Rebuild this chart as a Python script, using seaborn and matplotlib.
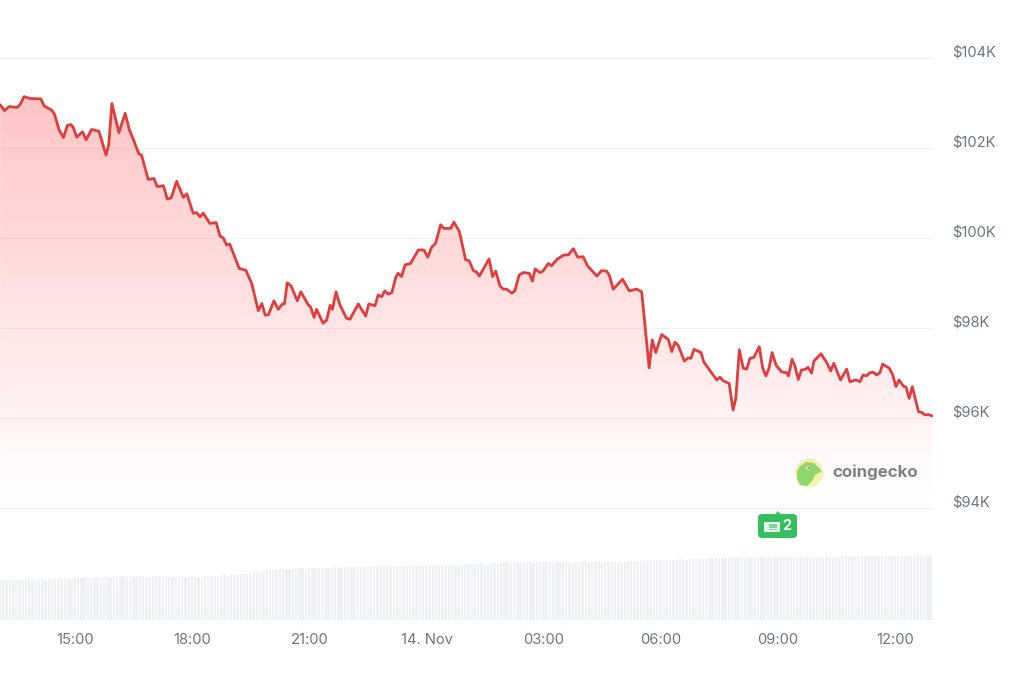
import numpy as np
import pandas as pd
import seaborn as sns
import matplotlib.pyplot as plt
from matplotlib.patches import Circle, Polygon, FancyBboxPatch, Rectangle
from matplotlib.transforms import IdentityTransform, Affine2D

W, H = 1025, 673

# hours since 13 Nov 00:00
price_hours = [
    13.11, 13.22, 13.34, 13.55, 13.63, 13.72, 13.87, 14.15, 14.24, 14.43, 14.50, 14.62, 14.73, 14.83, 14.92, 14.98,
    15.07, 15.22, 15.31, 15.45, 15.64, 15.82, 15.89, 15.97, 16.15, 16.31, 16.42, 16.52, 16.66, 16.73, 16.90, 17.05,
    17.13, 17.29, 17.39, 17.49, 17.63, 17.80, 17.89, 18.05, 18.14, 18.23, 18.31, 18.48, 18.64, 18.74, 18.82, 18.91,
    18.99, 19.23, 19.40, 19.55, 19.72, 19.81, 19.90, 19.98, 20.12, 20.23, 20.34, 20.39, 20.46, 20.56, 20.72, 20.81,
    21.00, 21.06, 21.15, 21.21, 21.38, 21.47, 21.56, 21.62, 21.71, 21.81, 21.98, 22.07, 22.28, 22.47, 22.55, 22.71,
    22.79, 22.88, 22.96, 23.05, 23.14, 23.24, 23.30, 23.39, 23.48, 23.62, 23.82, 23.96, 24.06, 24.16, 24.26, 24.39,
    24.47, 24.65, 24.73, 24.87, 25.03, 25.12, 25.23, 25.31, 25.38, 25.63, 25.72, 25.80, 25.91, 25.99, 26.08, 26.21,
    26.29, 26.40, 26.51, 26.66, 26.74, 26.81, 26.93, 27.00, 27.15, 27.23, 27.38, 27.55, 27.66, 27.79, 27.90, 28.04,
    28.15, 28.39, 28.51, 28.64, 28.71, 28.81, 29.05, 29.22, 29.41, 29.54, 29.73, 29.81, 29.90, 30.05, 30.22, 30.31,
    30.39, 30.48, 30.63, 30.73, 30.80, 30.88, 31.06, 31.13, 31.46, 31.54, 31.63, 31.78, 31.88, 31.95, 32.04, 32.14,
    32.23, 32.31, 32.41, 32.55, 32.64, 32.72, 32.80, 32.88, 32.98, 33.12, 33.25, 33.30, 33.39, 33.46, 33.55, 33.63,
    33.74, 33.80, 33.89, 33.95, 34.13, 34.27, 34.38, 34.46, 34.63, 34.79, 34.87, 35.03, 35.13, 35.21, 35.30, 35.38,
    35.47, 35.56, 35.64, 35.71, 35.88, 35.97, 36.05, 36.13, 36.24, 36.31, 36.39, 36.47, 36.63, 36.71, 36.79, 36.88,
    36.98,
]

# price in $K
price_values = [
    102.97, 102.84, 102.93, 102.91, 102.99, 103.15, 103.11, 103.10, 102.94, 102.85, 102.76, 102.41, 102.24, 102.51, 102.53, 102.47,
    102.25, 102.37, 102.19, 102.42, 102.38, 101.85, 102.08, 103.00, 102.35, 102.78, 102.41, 102.20, 101.88, 101.85, 101.31, 101.33,
    101.15, 101.17, 100.87, 100.90, 101.27, 100.91, 100.99, 100.56, 100.57, 100.48, 100.56, 100.33, 100.35, 100.05, 100.01, 99.85,
    99.87, 99.33, 99.29, 99.00, 98.39, 98.55, 98.29, 98.30, 98.61, 98.42, 98.54, 98.54, 99.01, 98.94, 98.61, 98.81,
    98.52, 98.47, 98.24, 98.42, 98.11, 98.18, 98.51, 98.42, 98.81, 98.52, 98.22, 98.20, 98.54, 98.27, 98.54, 98.50,
    98.74, 98.70, 98.83, 98.76, 98.79, 99.13, 99.22, 99.15, 99.41, 99.44, 99.74, 99.74, 99.58, 99.80, 99.89, 100.30,
    100.22, 100.22, 100.36, 100.15, 99.52, 99.50, 99.28, 99.25, 99.16, 99.54, 99.15, 99.27, 98.94, 98.87, 98.87, 98.78,
    98.83, 99.18, 99.24, 99.22, 99.05, 99.32, 99.24, 99.26, 99.44, 99.39, 99.54, 99.63, 99.63, 99.77, 99.58, 99.59,
    99.39, 99.16, 99.28, 99.27, 99.18, 98.87, 99.09, 98.83, 98.87, 98.81, 97.12, 97.74, 97.46, 97.86, 97.75, 97.48,
    97.69, 97.61, 97.27, 97.34, 97.33, 97.53, 97.46, 97.25, 96.85, 96.91, 96.83, 96.77, 96.18, 96.44, 97.52, 97.11,
    97.09, 97.33, 97.35, 97.59, 97.11, 96.94, 97.11, 97.46, 97.18, 97.03, 97.01, 96.94, 97.31, 97.17, 96.86, 97.07,
    97.09, 97.13, 97.00, 97.27, 97.43, 97.25, 97.05, 97.22, 96.85, 97.09, 96.81, 96.85, 96.81, 96.96, 96.94, 97.01,
    97.02, 96.96, 97.01, 97.20, 97.11, 96.96, 96.70, 96.85, 96.71, 96.69, 96.44, 96.70, 96.14, 96.13, 96.07, 96.08,
    96.05,
]

# 5 minute volume bars, $B
volume_values = [
    80, 80, 81, 80, 81, 81, 80, 81, 81, 82, 81, 82,
    82, 82, 81, 82, 83, 82, 83, 83, 82, 83, 83, 84,
    84, 84, 85, 84, 85, 85, 86, 85, 86, 86, 87, 86,
    87, 87, 88, 87, 88, 88, 87, 88, 88, 87, 87, 88,
    88, 87, 87, 86, 87, 86, 86, 87, 86, 86, 87, 87,
    86, 87, 87, 88, 88, 89, 88, 89, 90, 90, 89, 90,
    90, 91, 92, 92, 93, 94, 96, 97, 98, 99, 100, 100,
    101, 101, 102, 102, 103, 102, 103, 103, 104, 104, 103, 104,
    104, 104, 105, 105, 105, 104, 105, 106, 105, 106, 106, 106,
    106, 107, 106, 107, 107, 108, 107, 107, 108, 108, 107, 108,
    108, 108, 107, 108, 108, 109, 108, 108, 108, 109, 108, 108,
    109, 109, 110, 109, 110, 110, 110, 111, 110, 111, 111, 112,
    112, 112, 113, 113, 114, 113, 114, 115, 114, 115, 115, 116,
    116, 115, 116, 116, 115, 116, 116, 116, 115, 116, 116, 116,
    116, 116, 115, 116, 116, 116, 116, 115, 116, 116, 116, 116,
    116, 115, 116, 116, 116, 115, 116, 116, 116, 116, 115, 116,
    116, 117, 118, 118, 119, 119, 119, 120, 120, 120, 120, 120,
    120, 120, 121, 121, 121, 122, 122, 121, 122, 122, 122, 123,
    123, 123, 124, 124, 124, 125, 124, 125, 125, 125, 126, 126,
    126, 127, 127, 127, 127, 126, 127, 127, 128, 127, 127, 127,
    127, 127, 126, 127, 127, 127, 128, 127, 127, 127, 127, 127,
    127, 127, 128, 127, 127, 128, 127, 128, 128, 127, 128, 128,
    128, 128, 128, 128, 129, 128, 128, 129, 129, 128, 129, 129,
    129, 129, 129, 130, 129, 129, 130, 129, 130, 130, 130,
]

y_ticks = [94, 96, 98, 100, 102, 104]
y_labels = ['$94K', '$96K', '$98K', '$100K', '$102K', '$104K']
x_ticks = [15, 18, 21, 24, 27, 30, 33, 36]
x_labels = ['15:00', '18:00', '21:00', '14. Nov', '03:00', '06:00', '09:00', '12:00']
news_count = '2'
brand = 'coingecko'

sns.set_theme(style='white')
plt.rcParams['font.family'] = ['Inter', 'DejaVu Sans']

TEXT = '#6a7684'
RED = '#de3e3e'
XLIM = (13.105, 37.0)
YLIM = (91.51, 105.30)

fig = plt.figure(figsize=(W / 100, H / 100), dpi=100, facecolor='white')
ax = fig.add_axes([0, (H - 620) / H, 933 / W, 620 / H])

# volume bars on their own scale
vol_ax = ax.twinx()
bar_hours = XLIM[0] + np.arange(len(volume_values)) / 12
vol_df = pd.DataFrame({'hour': bar_hours, 'volume': volume_values})
sns.barplot(data=vol_df, x='hour', y='volume', native_scale=True, color='#edf1f5',
            saturation=1, width=0.72, linewidth=0, ax=vol_ax)
vol_ax.set_ylim(0, 1240)
vol_ax.set_axis_off()

# price line and gradient below it
price_df = pd.DataFrame({'hour': price_hours, 'price': price_values})
area = ax.fill_between(price_hours, price_values, YLIM[0], color='none', linewidth=0)
fade = np.zeros((256, 1, 4))
fade[:, 0, 0] = 1.0
fade[:, 0, 1] = 0.26
fade[:, 0, 2] = 0.26
fade[:, 0, 3] = np.linspace(0.32, 0, 256)
im = ax.imshow(fade, extent=[XLIM[0], XLIM[1], 94.1, 103.4], origin='upper', aspect='auto', zorder=2)
im.set_clip_path(area.get_paths()[0], transform=ax.transData)
sns.lineplot(data=price_df, x='hour', y='price', sort=False, estimator=None, color=RED,
             linewidth=2.0, ax=ax, zorder=3)

ax.set_xlim(*XLIM)
ax.set_ylim(*YLIM)
vol_ax.set_xlim(*XLIM)
ax.set_zorder(vol_ax.get_zorder() + 1)
ax.patch.set_visible(False)

ax.set_xlabel('')
ax.set_ylabel('')
ax.yaxis.tick_right()
ax.set_yticks(y_ticks, y_labels)
ax.set_xticks(x_ticks, x_labels)
ax.tick_params(axis='y', length=0, pad=14, labelsize=10.6, labelcolor=TEXT)
ax.tick_params(axis='x', length=5, width=0.8, color='#edf1f4', pad=4.2, labelsize=10.6, labelcolor=TEXT)
for t in ax.get_yticklabels():
    t.set_va('bottom')
    t.set_transform(t.get_transform() + Affine2D().translate(0, -1.3))
for t in ax.get_xticklabels():
    t.set_transform(t.get_transform() + Affine2D().translate(1.2, 0))
ax.grid(axis='y', color='#f0f2f4', linewidth=0.8, zorder=1)
ax.grid(axis='x', visible=False)
ax.set_axisbelow(True)
sns.despine(ax=ax, left=True, right=True, top=True, bottom=True)


def pt(x, y):
    return (x, H - y)


px = IdentityTransform()

# watermark
fig.add_artist(Circle(pt(809, 473), 14, transform=px, fc='#f8f4ae', ec='none'))
gecko = [pt(x, y) for x, y in [(800, 466), (806, 462), (814, 463), (822, 471), (815, 475),
                               (812, 481), (807, 486), (800, 485), (797, 479), (797, 472)]]
fig.add_artist(Polygon(gecko, closed=True, transform=px, fc='#8edb6c', ec='none'))
fig.add_artist(Circle(pt(808, 468), 2, transform=px, fc='#e8efe0', ec='none'))
fig.add_artist(Circle(pt(808.5, 468), 1, transform=px, fc='#6c7a64', ec='none'))
fig.text(832 / W, 1 - 472 / H, brand, color='#808183', fontsize=12.2, fontweight='bold',
         va='center', ha='left')

# news badge
GREEN = '#36bf5e'
fig.add_artist(FancyBboxPatch(pt(761, 535), 33, 18, boxstyle='round,pad=3,rounding_size=4',
                              transform=px, fc=GREEN, ec='none'))
fig.add_artist(Polygon([pt(775, 514.5), pt(778, 511), pt(781, 514.5)], closed=True, transform=px, fc=GREEN, ec='none'))
fig.add_artist(Rectangle(pt(763.5, 532), 16, 10, transform=px, fc='#e9f8ee', ec='none'))
fig.add_artist(Rectangle(pt(769, 527.5), 8, 3.5, transform=px, fc='#7ed79a', ec='none'))
fig.add_artist(Rectangle(pt(769, 530), 8, 1, transform=px, fc='#7ed79a', ec='none'))
fig.text(787 / W, 1 - 526 / H, news_count, color='#eefaf2', fontsize=10.4, fontweight='bold',
         va='center', ha='center')

fig.savefig('out.png', dpi=100)
